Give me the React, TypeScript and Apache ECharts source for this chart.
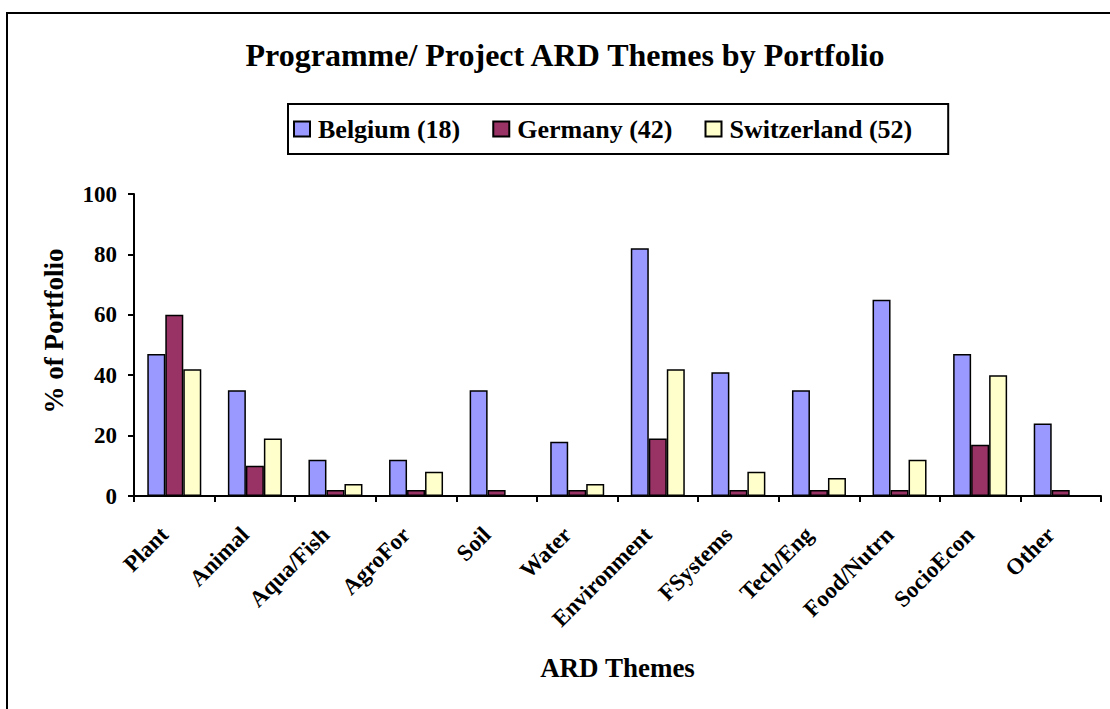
import React, { useEffect, useRef } from "react";
import * as echarts from "echarts";

const categories = ["Plant", "Animal", "Aqua/Fish", "AgroFor", "Soil", "Water", "Environment", "FSystems", "Tech/Eng", "Food/Nutrn", "SocioEcon", "Other"];
const belgium = [47, 35, 12, 12, 35, 18, 82, 41, 35, 65, 47, 24];
const germany = [60, 10, 2, 2, 2, 2, 19, 2, 2, 2, 17, 2];
const switzerland = [42, 19, 4, 8, 0, 4, 42, 8, 6, 12, 40, 0];
const seriesNames = ["Belgium (18)", "Germany (42)", "Switzerland (52)"];
const yTicks = { min: 0, max: 100, interval: 20 };

const FONT = "'Liberation Serif', 'Times New Roman', serif";

export default function App() {
  const ref = useRef<HTMLDivElement>(null);
  useEffect(() => {
    const chart = echarts.init(ref.current!, null, { renderer: "svg" });
    const barStyle = (color: string) => ({ color, borderColor: "#000", borderWidth: 1.5 });
    chart.setOption({
      animation: false,
      backgroundColor: "#fff",
      textStyle: { fontFamily: FONT, color: "#000" },
      title: {
        text: "Programme/ Project ARD Themes by Portfolio",
        left: 560,
        textAlign: "center",
        top: 34,
        textStyle: { fontFamily: FONT, fontWeight: "bold", fontSize: 32, color: "#000" },
      },
      legend: {
        left: 288,
        top: 104,
        data: seriesNames,
        itemWidth: 16,
        itemHeight: 15,
        itemGap: 32,
        padding: [12, 36, 12, 5],
        borderColor: "#000",
        borderWidth: 2,
        icon: "rect",
        textStyle: { fontFamily: FONT, fontWeight: "bold", fontSize: 26, color: "#000", padding: [0, 0, 0, 3] },
      },
      grid: { left: 134, right: 9, top: 194, bottom: 213, containLabel: false },
      xAxis: {
        type: "category",
        data: categories,
        name: "ARD Themes",
        nameLocation: "middle",
        nameGap: 158,
        nameTextStyle: { fontFamily: FONT, fontWeight: "bold", fontSize: 27, color: "#000" },
        axisLine: { lineStyle: { color: "#000", width: 2 } },
        axisTick: { show: true, length: 6, lineStyle: { color: "#000", width: 2 } },
        axisLabel: { rotate: 45, margin: 25, padding: [0, 14, 0, 0], fontFamily: FONT, fontWeight: "bold", fontSize: 23, color: "#000" },
      },
      yAxis: {
        type: "value",
        min: yTicks.min,
        max: yTicks.max,
        interval: yTicks.interval,
        name: "% of Portfolio",
        nameLocation: "middle",
        nameGap: 67,
        nameTextStyle: { fontFamily: FONT, fontWeight: "bold", fontSize: 27, color: "#000", padding: [0, 0, 0, 28] },
        axisLine: { show: true, lineStyle: { color: "#000", width: 2 } },
        axisTick: { show: true, length: 6, lineStyle: { color: "#000", width: 2 } },
        splitLine: { show: false },
        axisLabel: { margin: 17, fontFamily: FONT, fontWeight: "bold", fontSize: 23, color: "#000" },
      },
      series: [
        { name: seriesNames[0], type: "bar", data: belgium, itemStyle: barStyle("#9999FF"), barGap: "0%", barCategoryGap: "33%" },
        { name: seriesNames[1], type: "bar", data: germany, itemStyle: barStyle("#993366"), barGap: "0%", barCategoryGap: "33%" },
        { name: seriesNames[2], type: "bar", data: switzerland, itemStyle: barStyle("#FFFFCC"), barGap: "0%", barCategoryGap: "33%" },
      ],
      graphic: [
        {
          type: "rect",
          shape: { x: 7, y: 13, width: 1200, height: 800 },
          style: { fill: "none", stroke: "#000", lineWidth: 2 },
          silent: true,
        },
      ],
    });
    return () => chart.dispose();
  }, []);
  return <div ref={ref} style={{ position: "fixed", left: 0, top: 0, width: 1110, height: 709 }} />;
}
